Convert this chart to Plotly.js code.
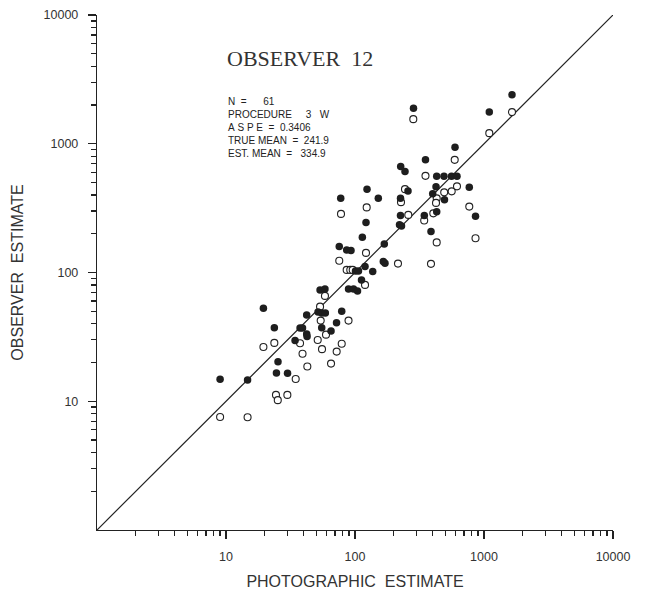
<!DOCTYPE html>
<html>
<head>
<meta charset="utf-8">
<script src="https://cdn.plot.ly/plotly-3.0.1.min.js"></script>
<style>html,body{margin:0;padding:0;background:#fff;}#chart{width:651px;height:592px;}</style>
</head>
<body>
<div id="chart"></div>
<script>
// Filled circles (observer estimate)
const filledX = [9.0, 14.7, 19.5, 23.7, 24.6, 25.3, 30.0, 34.3, 37.5, 39.2, 42.2, 42.2, 42.5, 51.7, 55.2, 58.9, 55.2, 65.2, 71.9, 75.5, 78.9, 53.6, 58.5, 86.2, 93.1, 89.1, 97.4, 104.6, 100.9, 106.4, 112.3, 114, 119.6, 121.7, 123.9, 137.2, 151.6, 77.5, 168.7, 165.7, 170.8, 225.3, 221.3, 229.3, 225.3, 226.1, 244.1, 257.5, 284.1, 344.5, 351.9, 388.2, 400.2, 424.6, 429.9, 489.7, 560, 617.6, 494, 429.9, 596, 769, 859.4, 1099, 1648];
const filledY = [14.8, 14.6, 52.8, 37.3, 16.6, 20.3, 16.5, 29.7, 37.1, 37.1, 46.8, 33.3, 31.8, 49.4, 48.5, 48.5, 37.3, 35.2, 40.8, 159.5, 49.9, 73.2, 74.6, 149.8, 148.5, 74.6, 74.6, 71.9, 102.9, 102.9, 87.6, 188, 111.1, 244.2, 443.8, 102, 377.9, 378, 166.8, 121.5, 118.1, 277.7, 234.4, 230.2, 378, 665, 608, 430.5, 1890, 277.7, 749.7, 207.9, 409.6, 462.6, 560, 560, 560, 560, 366.6, 295.8, 941, 460, 272.9, 1761, 2399];
// Open circles
const openX = [9.0, 14.7, 19.5, 23.7, 24.4, 25.2, 29.9, 34.7, 37.5, 39.2, 42.7, 51.4, 53.6, 54.2, 55.5, 58.5, 59.6, 65.2, 72.1, 75.5, 78.9, 77.9, 86.2, 91.9, 96, 89.1, 119.6, 121.7, 123.2, 215.4, 227.3, 244.1, 258.9, 283.1, 343.9, 351.9, 388.2, 404.6, 429.9, 424.6, 429.9, 491.4, 561.9, 592.9, 617.6, 769, 859.4, 1099, 1648];
const openY = [7.55, 7.51, 26.4, 28.4, 11.2, 10.2, 11.2, 14.9, 28.2, 23.4, 18.6, 29.9, 54.3, 42.3, 25.4, 65.8, 32.9, 19.6, 24.3, 123.5, 28.0, 285.3, 104.8, 104.8, 104.8, 42.3, 80.1, 142, 320.4, 117.3, 351.8, 443.8, 280.2, 1553, 253.2, 563, 116.7, 287.9, 376.5, 347.3, 171.3, 419.2, 426.8, 749.7, 466.7, 325.1, 184.7, 1209, 1761];
// 1:1 line
const lineX = [1, 10000];
const lineY = [1, 10000];
// Ticks
const majorVals = [10, 100, 1000, 10000];
const majorText = ['10', '100', '1000', '10000'];
const minorMantissas = [2, 3, 4, 5, 6, 7, 8, 9];
const decades = [1, 10, 100, 1000];
const minorVals = [];
decades.forEach(d => minorMantissas.forEach(m => minorVals.push(m * d)));
const allTickVals = majorVals.concat(minorVals);
const allTickText = majorText.concat(minorVals.map(() => ''));
// Texts
const titleText = 'OBSERVER\u00a0\u00a012';
const statLines = [
  'N\u00a0\u00a0=\u00a0\u00a0\u00a0\u00a0\u00a0\u00a061',
  'PROCEDURE\u00a0\u00a0\u00a0\u00a0\u00a03\u00a0\u00a0\u00a0W',
  'A\u00a0S\u00a0P\u00a0E\u00a0\u00a0=\u00a0\u00a00.3406',
  'TRUE\u00a0MEAN\u00a0\u00a0=\u00a0\u00a0241.9',
  'EST.\u00a0MEAN\u00a0\u00a0=\u00a0\u00a0\u00a0334.9'
];
const xTitle = 'PHOTOGRAPHIC\u00a0\u00a0ESTIMATE';
const yTitle = 'OBSERVER\u00a0\u00a0ESTIMATE';

const ink = '#222222';
const sans = 'Liberation Sans, Arial, sans-serif';

const traces = [
  {x: lineX, y: lineY, mode: 'lines', line: {color: ink, width: 1.2}, hoverinfo: 'skip'},
  {x: openX, y: openY, mode: 'markers', marker: {symbol: 'circle', size: 7, color: '#ffffff', line: {color: ink, width: 1.1}}},
  {x: filledX, y: filledY, mode: 'markers', marker: {symbol: 'circle', size: 7.5, color: '#1e1e1e', line: {width: 0}}},
  {x: lineX, y: lineY, xaxis: 'x2', yaxis: 'y2', mode: 'markers', marker: {size: 1, color: 'rgba(0,0,0,0)'}, hoverinfo: 'skip'}
];

const axisCommon = {
  type: 'log',
  range: [0, 4],
  showgrid: false,
  zeroline: false,
  showline: true,
  linecolor: ink,
  linewidth: 1.2,
  ticks: 'outside',
  ticklen: 5,
  tickcolor: ink,
  tickwidth: 1.3,
  tickmode: 'array',
  tickvals: allTickVals,
  ticktext: allTickText,
  tickfont: {family: sans, size: 12.5, color: '#333'},
  mirror: false
};
const majorAxis = {
  type: 'log',
  range: [0, 4],
  showgrid: false,
  zeroline: false,
  showline: false,
  ticks: 'outside',
  ticklen: 8,
  tickcolor: ink,
  tickwidth: 1.3,
  tickmode: 'array',
  tickvals: majorVals,
  showticklabels: false
};

const annotations = [
  {xref: 'paper', yref: 'paper', x: 0.393, y: 0.915, text: titleText, showarrow: false,
   xanchor: 'center', yanchor: 'middle', font: {family: 'Liberation Serif, Times New Roman, serif', size: 22, color: '#333'}}
];
statLines.forEach((t, i) => {
  annotations.push({xref: 'paper', yref: 'paper', x: (226 - 97) / 516, y: (530 - (101.5 + i * 13.1)) / 515,
    text: t, showarrow: false, xanchor: 'left', yanchor: 'middle',
    font: {family: 'Liberation Sans Narrow, Liberation Sans, Arial, sans-serif', size: 10, color: '#222'}});
});

const layout = {
  width: 651, height: 592,
  margin: {l: 97, r: 38, t: 15, b: 62},
  paper_bgcolor: '#ffffff', plot_bgcolor: '#ffffff',
  showlegend: false,
  xaxis: Object.assign({}, axisCommon, {
    title: {text: xTitle, font: {family: sans, size: 16, color: '#333'}, standoff: 12},
    ticklabelstandoff: 10
  }),
  yaxis: Object.assign({}, axisCommon, {
    title: {text: yTitle, font: {family: sans, size: 16, color: '#333'}, standoff: 16},
    ticklabelstandoff: 10
  }),
  xaxis2: Object.assign({}, majorAxis, {overlaying: 'x', side: 'bottom', anchor: 'y'}),
  yaxis2: Object.assign({}, majorAxis, {overlaying: 'y', side: 'left', anchor: 'x'}),
  annotations: annotations
};

Plotly.newPlot('chart', traces, layout, {staticPlot: true, displayModeBar: false});
</script>
</body>
</html>
